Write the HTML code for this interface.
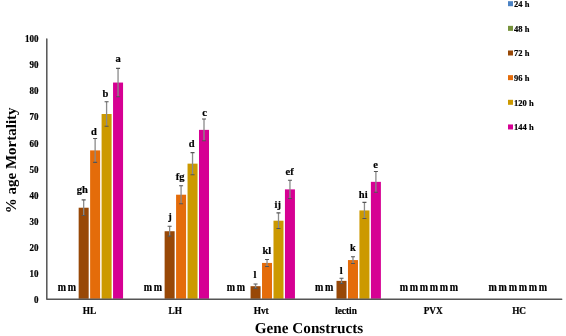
<!DOCTYPE html><html><head><meta charset="utf-8"><style>html,body{margin:0;padding:0;background:#fff;width:566px;height:336px;overflow:hidden}svg{display:block;filter:blur(0.4px)}text{font-family:"Liberation Serif",serif;font-weight:bold;fill:#000;stroke:#000;stroke-width:0.2px}</style></head><body>
<svg width="566" height="336" viewBox="0 0 566 336">
<rect x="78.66" y="207.71" width="10.01" height="91.09" fill="#984807"/>
<rect x="90.12" y="150.40" width="10.01" height="148.40" fill="#E46C0A"/>
<rect x="101.59" y="114.01" width="10.01" height="184.79" fill="#CC9900"/>
<rect x="113.05" y="82.56" width="10.01" height="216.24" fill="#D60093"/>
<rect x="164.62" y="231.23" width="10.01" height="67.57" fill="#984807"/>
<rect x="176.08" y="194.71" width="10.01" height="104.09" fill="#E46C0A"/>
<rect x="187.54" y="163.65" width="10.01" height="135.15" fill="#CC9900"/>
<rect x="199.00" y="129.87" width="10.01" height="168.94" fill="#D60093"/>
<rect x="250.56" y="286.19" width="10.01" height="12.61" fill="#984807"/>
<rect x="262.02" y="262.93" width="10.01" height="35.87" fill="#E46C0A"/>
<rect x="273.49" y="220.70" width="10.01" height="78.10" fill="#CC9900"/>
<rect x="284.94" y="189.38" width="10.01" height="109.42" fill="#D60093"/>
<rect x="336.51" y="280.87" width="10.01" height="17.93" fill="#984807"/>
<rect x="347.97" y="260.07" width="10.01" height="38.73" fill="#E46C0A"/>
<rect x="359.43" y="210.43" width="10.01" height="88.37" fill="#CC9900"/>
<rect x="370.89" y="181.84" width="10.01" height="116.96" fill="#D60093"/>
<path d="M83.67 199.91V215.50" stroke="#8a8a8a" stroke-width="1.3" fill="none"/>
<path d="M81.67 199.91H85.67M81.67 215.50H85.67" stroke="#555" stroke-width="1.1" fill="none"/>
<path d="M95.13 138.44V162.35" stroke="#8a8a8a" stroke-width="1.3" fill="none"/>
<path d="M93.13 138.44H97.13M93.13 162.35H97.13" stroke="#555" stroke-width="1.1" fill="none"/>
<path d="M106.59 101.80V126.23" stroke="#8a8a8a" stroke-width="1.3" fill="none"/>
<path d="M104.59 101.80H108.59M104.59 126.23H108.59" stroke="#555" stroke-width="1.1" fill="none"/>
<path d="M118.05 68.40V96.73" stroke="#8a8a8a" stroke-width="1.3" fill="none"/>
<path d="M116.05 68.40H120.05M116.05 96.73H120.05" stroke="#555" stroke-width="1.1" fill="none"/>
<path d="M169.62 226.29V236.16" stroke="#8a8a8a" stroke-width="1.3" fill="none"/>
<path d="M167.62 226.29H171.62M167.62 236.16H171.62" stroke="#555" stroke-width="1.1" fill="none"/>
<path d="M181.08 185.74V203.68" stroke="#8a8a8a" stroke-width="1.3" fill="none"/>
<path d="M179.08 185.74H183.08M179.08 203.68H183.08" stroke="#555" stroke-width="1.1" fill="none"/>
<path d="M192.54 152.61V174.70" stroke="#8a8a8a" stroke-width="1.3" fill="none"/>
<path d="M190.54 152.61H194.54M190.54 174.70H194.54" stroke="#555" stroke-width="1.1" fill="none"/>
<path d="M204.00 118.95V140.78" stroke="#8a8a8a" stroke-width="1.3" fill="none"/>
<path d="M202.00 118.95H206.00M202.00 140.78H206.00" stroke="#555" stroke-width="1.1" fill="none"/>
<path d="M255.57 283.99V288.40" stroke="#8a8a8a" stroke-width="1.3" fill="none"/>
<path d="M253.57 283.99H257.57M253.57 288.40H257.57" stroke="#555" stroke-width="1.1" fill="none"/>
<path d="M267.03 259.43V266.44" stroke="#8a8a8a" stroke-width="1.3" fill="none"/>
<path d="M265.03 259.43H269.03M265.03 266.44H269.03" stroke="#555" stroke-width="1.1" fill="none"/>
<path d="M278.49 212.90V228.50" stroke="#8a8a8a" stroke-width="1.3" fill="none"/>
<path d="M276.49 212.90H280.49M276.49 228.50H280.49" stroke="#555" stroke-width="1.1" fill="none"/>
<path d="M289.95 180.29V198.48" stroke="#8a8a8a" stroke-width="1.3" fill="none"/>
<path d="M287.95 180.29H291.95M287.95 198.48H291.95" stroke="#555" stroke-width="1.1" fill="none"/>
<path d="M341.52 278.27V283.47" stroke="#8a8a8a" stroke-width="1.3" fill="none"/>
<path d="M339.52 278.27H343.52M339.52 283.47H343.52" stroke="#555" stroke-width="1.1" fill="none"/>
<path d="M352.98 256.70V263.45" stroke="#8a8a8a" stroke-width="1.3" fill="none"/>
<path d="M350.98 256.70H354.98M350.98 263.45H354.98" stroke="#555" stroke-width="1.1" fill="none"/>
<path d="M364.44 202.38V218.49" stroke="#8a8a8a" stroke-width="1.3" fill="none"/>
<path d="M362.44 202.38H366.44M362.44 218.49H366.44" stroke="#555" stroke-width="1.1" fill="none"/>
<path d="M375.90 171.45V192.24" stroke="#8a8a8a" stroke-width="1.3" fill="none"/>
<path d="M373.90 171.45H377.90M373.90 192.24H377.90" stroke="#555" stroke-width="1.1" fill="none"/>
<path d="M46.8 38.9V299.3H561.7" stroke="#555" stroke-width="1.5" stroke-linejoin="round" stroke-linecap="round" fill="none"/>
<text transform="translate(38.40,303.20) scale(1,1.06)" font-size="9" text-anchor="end">0</text>
<text transform="translate(38.40,277.09) scale(1,1.06)" font-size="9" text-anchor="end">10</text>
<text transform="translate(38.40,250.98) scale(1,1.06)" font-size="9" text-anchor="end">20</text>
<text transform="translate(38.40,224.87) scale(1,1.06)" font-size="9" text-anchor="end">30</text>
<text transform="translate(38.40,198.76) scale(1,1.06)" font-size="9" text-anchor="end">40</text>
<text transform="translate(38.40,172.65) scale(1,1.06)" font-size="9" text-anchor="end">50</text>
<text transform="translate(38.40,146.54) scale(1,1.06)" font-size="9" text-anchor="end">60</text>
<text transform="translate(38.40,120.43) scale(1,1.06)" font-size="9" text-anchor="end">70</text>
<text transform="translate(38.40,94.32) scale(1,1.06)" font-size="9" text-anchor="end">80</text>
<text transform="translate(38.40,68.21) scale(1,1.06)" font-size="9" text-anchor="end">90</text>
<text transform="translate(38.40,42.10) scale(1,1.06)" font-size="9" text-anchor="end">100</text>
<text transform="translate(89.50,313.80) scale(1,1.1)" font-size="9.3" text-anchor="middle">HL</text>
<text transform="translate(175.30,313.80) scale(1,1.1)" font-size="9.3" text-anchor="middle">LH</text>
<text transform="translate(261.20,313.80) scale(1,1.1)" font-size="9.3" text-anchor="middle">Hvt</text>
<text transform="translate(346.00,313.80) scale(1,1.1)" font-size="9.3" text-anchor="middle">lectin</text>
<text transform="translate(433.20,313.80) scale(1,1.1)" font-size="9.3" text-anchor="middle">PVX</text>
<text transform="translate(519.10,313.80) scale(1,1.1)" font-size="9.3" text-anchor="middle">HC</text>
<text x="82.30" y="192.60" font-size="10.5" text-anchor="middle">gh</text>
<text x="94.00" y="134.60" font-size="10.5" text-anchor="middle">d</text>
<text x="105.30" y="96.60" font-size="10.5" text-anchor="middle">b</text>
<text x="118.05" y="61.60" font-size="10.5" text-anchor="middle">a</text>
<text x="170.00" y="219.95" font-size="10.5" text-anchor="middle">j</text>
<text x="180.20" y="180.30" font-size="10.5" text-anchor="middle">fg</text>
<text x="191.70" y="147.30" font-size="10.5" text-anchor="middle">d</text>
<text x="204.50" y="115.50" font-size="10.5" text-anchor="middle">c</text>
<text x="255.05" y="278.45" font-size="10.5" text-anchor="middle">l</text>
<text x="266.90" y="253.65" font-size="10.5" text-anchor="middle">kl</text>
<text x="277.80" y="207.60" font-size="10.5" text-anchor="middle">ij</text>
<text x="289.70" y="174.75" font-size="10.5" text-anchor="middle">ef</text>
<text x="341.20" y="273.50" font-size="10.5" text-anchor="middle">l</text>
<text x="352.90" y="251.45" font-size="10.5" text-anchor="middle">k</text>
<text x="363.20" y="198.25" font-size="10.5" text-anchor="middle">hi</text>
<text x="375.70" y="167.90" font-size="10.5" text-anchor="middle">e</text>
<text transform="translate(57.80,290.70) scale(1,1.18)" font-size="10" letter-spacing="1.7">mm</text>
<text transform="translate(143.80,290.70) scale(1,1.18)" font-size="10" letter-spacing="1.7">mm</text>
<text transform="translate(226.80,290.70) scale(1,1.18)" font-size="10" letter-spacing="1.7">mm</text>
<text transform="translate(315.00,290.70) scale(1,1.18)" font-size="10" letter-spacing="1.7">mm</text>
<text transform="translate(399.70,290.70) scale(1,1.18)" font-size="10" letter-spacing="1.7">mmmmmm</text>
<text transform="translate(488.60,290.70) scale(1,1.18)" font-size="10" letter-spacing="1.7">mmmmmm</text>
<text x="309.00" y="332.70" font-size="15.2" text-anchor="middle" style="stroke-width:0;text-rendering:geometricPrecision">Gene Constructs</text>
<text transform="translate(16,160.3) rotate(-90)" x="0" y="0" font-size="15" text-anchor="middle" style="stroke-width:0">% age Mortality</text>
<rect x="508" y="1.20" width="5" height="5" fill="#4C83C4"/>
<text x="514.00" y="7.10" font-size="8.5">24 h</text>
<rect x="508" y="25.85" width="5" height="5" fill="#77933C"/>
<text x="514.00" y="31.75" font-size="8.5">48 h</text>
<rect x="508" y="50.50" width="5" height="5" fill="#984807"/>
<text x="514.00" y="56.40" font-size="8.5">72 h</text>
<rect x="508" y="75.15" width="5" height="5" fill="#E46C0A"/>
<text x="514.00" y="81.05" font-size="8.5">96 h</text>
<rect x="508" y="99.80" width="5" height="5" fill="#CC9900"/>
<text x="514.00" y="105.70" font-size="8.5">120 h</text>
<rect x="508" y="124.45" width="5" height="5" fill="#D60093"/>
<text x="514.00" y="130.35" font-size="8.5">144 h</text>
</svg></body></html>
